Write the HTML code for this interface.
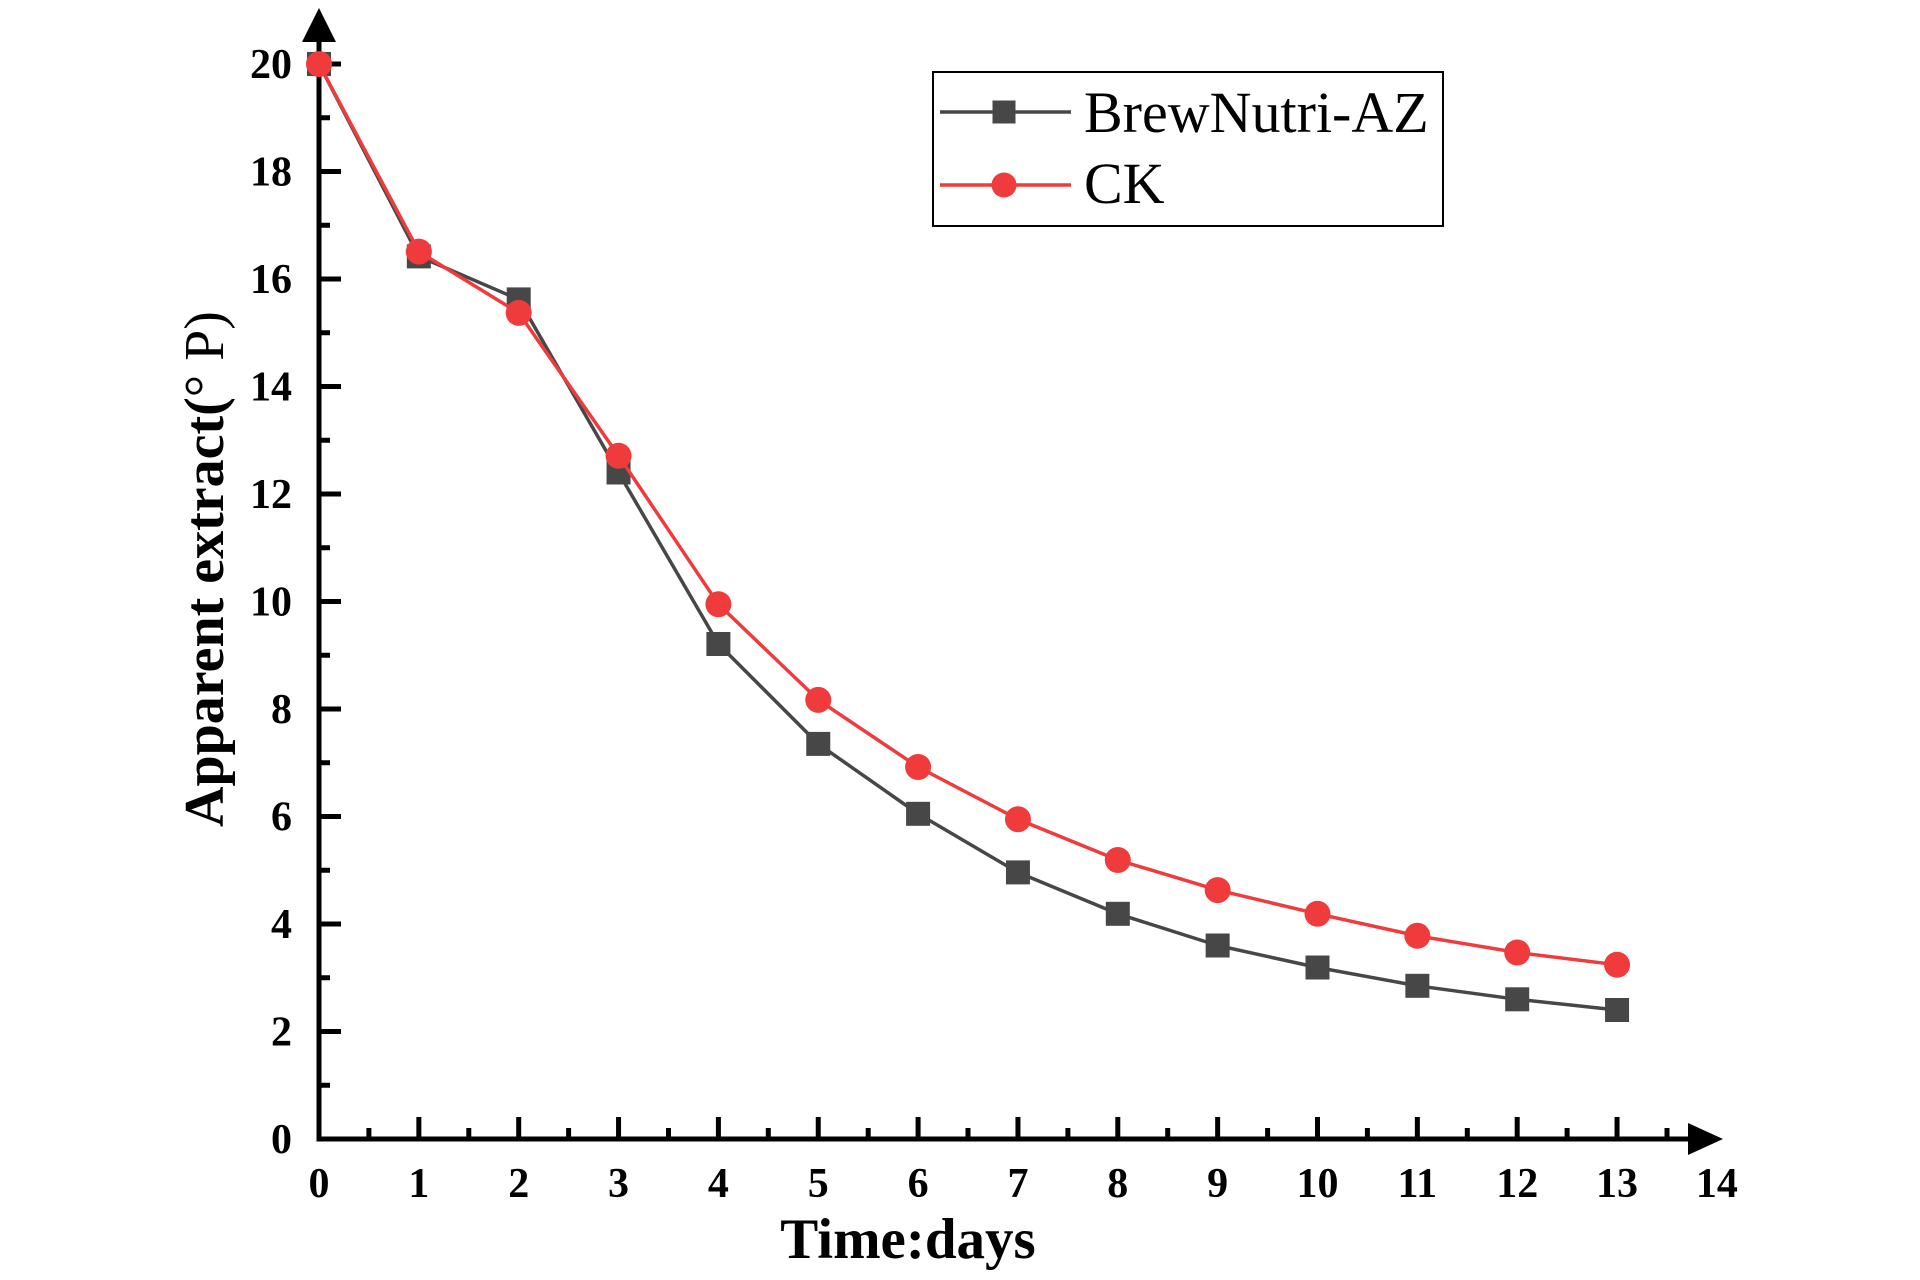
<!DOCTYPE html>
<html>
<head>
<meta charset="utf-8">
<style>
html,body{margin:0;padding:0;background:#fff;}
svg{display:block;}
</style>
</head>
<body>
<svg width="1920" height="1280" viewBox="0 0 1920 1280" xmlns="http://www.w3.org/2000/svg">
<rect width="1920" height="1280" fill="#fff"/>

<!-- axes -->
<g stroke="#000" stroke-width="5" fill="none">
  <line x1="319" y1="1141.5" x2="319" y2="38"/>
  <line x1="316.5" y1="1139" x2="1692" y2="1139"/>
  <!-- y major ticks -->
  <line x1="319" y1="1139" x2="341" y2="1139"/>
  <line x1="319" y1="1031.5" x2="341" y2="1031.5"/>
  <line x1="319" y1="924" x2="341" y2="924"/>
  <line x1="319" y1="816.5" x2="341" y2="816.5"/>
  <line x1="319" y1="709" x2="341" y2="709"/>
  <line x1="319" y1="601.5" x2="341" y2="601.5"/>
  <line x1="319" y1="494" x2="341" y2="494"/>
  <line x1="319" y1="386.5" x2="341" y2="386.5"/>
  <line x1="319" y1="279" x2="341" y2="279"/>
  <line x1="319" y1="171.5" x2="341" y2="171.5"/>
  <line x1="319" y1="64" x2="341" y2="64"/>
  <!-- y minor ticks -->
  <line x1="319" y1="1085.25" x2="330" y2="1085.25"/>
  <line x1="319" y1="977.75" x2="330" y2="977.75"/>
  <line x1="319" y1="870.25" x2="330" y2="870.25"/>
  <line x1="319" y1="762.75" x2="330" y2="762.75"/>
  <line x1="319" y1="655.25" x2="330" y2="655.25"/>
  <line x1="319" y1="547.75" x2="330" y2="547.75"/>
  <line x1="319" y1="440.25" x2="330" y2="440.25"/>
  <line x1="319" y1="332.75" x2="330" y2="332.75"/>
  <line x1="319" y1="225.25" x2="330" y2="225.25"/>
  <line x1="319" y1="117.75" x2="330" y2="117.75"/>
  <!-- x major ticks -->
  <line x1="418.85" y1="1139" x2="418.85" y2="1117"/>
  <line x1="518.7" y1="1139" x2="518.7" y2="1117"/>
  <line x1="618.55" y1="1139" x2="618.55" y2="1117"/>
  <line x1="718.4" y1="1139" x2="718.4" y2="1117"/>
  <line x1="818.25" y1="1139" x2="818.25" y2="1117"/>
  <line x1="918.1" y1="1139" x2="918.1" y2="1117"/>
  <line x1="1017.95" y1="1139" x2="1017.95" y2="1117"/>
  <line x1="1117.8" y1="1139" x2="1117.8" y2="1117"/>
  <line x1="1217.65" y1="1139" x2="1217.65" y2="1117"/>
  <line x1="1317.5" y1="1139" x2="1317.5" y2="1117"/>
  <line x1="1417.35" y1="1139" x2="1417.35" y2="1117"/>
  <line x1="1517.2" y1="1139" x2="1517.2" y2="1117"/>
  <line x1="1617.05" y1="1139" x2="1617.05" y2="1117"/>
  <!-- x minor ticks -->
  <line x1="368.9" y1="1139" x2="368.9" y2="1128"/>
  <line x1="468.8" y1="1139" x2="468.8" y2="1128"/>
  <line x1="568.6" y1="1139" x2="568.6" y2="1128"/>
  <line x1="668.5" y1="1139" x2="668.5" y2="1128"/>
  <line x1="768.3" y1="1139" x2="768.3" y2="1128"/>
  <line x1="868.2" y1="1139" x2="868.2" y2="1128"/>
  <line x1="968.0" y1="1139" x2="968.0" y2="1128"/>
  <line x1="1067.9" y1="1139" x2="1067.9" y2="1128"/>
  <line x1="1167.7" y1="1139" x2="1167.7" y2="1128"/>
  <line x1="1267.6" y1="1139" x2="1267.6" y2="1128"/>
  <line x1="1367.4" y1="1139" x2="1367.4" y2="1128"/>
  <line x1="1467.3" y1="1139" x2="1467.3" y2="1128"/>
  <line x1="1567.1" y1="1139" x2="1567.1" y2="1128"/>
  <line x1="1667.0" y1="1139" x2="1667.0" y2="1128"/>
</g>
<!-- arrows -->
<polygon points="319,8 302,42 336,42" fill="#000"/>
<polygon points="1723,1139 1688,1123 1688,1155" fill="#000"/>

<!-- y tick labels -->
<g font-family="Liberation Serif, serif" font-weight="bold" font-size="42" fill="#000" text-anchor="end">
  <text x="292" y="1153">0</text>
  <text x="292" y="1045.5">2</text>
  <text x="292" y="938">4</text>
  <text x="292" y="830.5">6</text>
  <text x="292" y="723">8</text>
  <text x="292" y="615.5">10</text>
  <text x="292" y="508">12</text>
  <text x="292" y="400.5">14</text>
  <text x="292" y="293">16</text>
  <text x="292" y="185.5">18</text>
  <text x="292" y="78">20</text>
</g>
<!-- x tick labels -->
<g font-family="Liberation Serif, serif" font-weight="bold" font-size="42" fill="#000" text-anchor="middle">
  <text x="319" y="1197">0</text>
  <text x="418.85" y="1197">1</text>
  <text x="518.7" y="1197">2</text>
  <text x="618.55" y="1197">3</text>
  <text x="718.4" y="1197">4</text>
  <text x="818.25" y="1197">5</text>
  <text x="918.1" y="1197">6</text>
  <text x="1017.95" y="1197">7</text>
  <text x="1117.8" y="1197">8</text>
  <text x="1217.65" y="1197">9</text>
  <text x="1317.5" y="1197">10</text>
  <text x="1417.35" y="1197">11</text>
  <text x="1517.2" y="1197">12</text>
  <text x="1617.05" y="1197">13</text>
  <text x="1716.9" y="1197">14</text>
</g>

<!-- axis titles -->
<text x="908" y="1258" font-family="Liberation Serif, serif" font-weight="bold" font-size="57" text-anchor="middle" fill="#000">Time:days</text>
<text transform="translate(223,569) rotate(-90)" x="0" y="0" font-family="Liberation Serif, serif" font-weight="bold" font-size="56" text-anchor="middle" fill="#000">Apparent extract(<tspan font-weight="normal">° P)</tspan></text>

<!-- Black series -->
<polyline fill="none" stroke="#474747" stroke-width="3.5" stroke-linejoin="round"
 points="319,64 418.85,256.4 518.7,299.4 618.55,472.5 718.4,644 818.25,743.9 918.1,813.8 1017.95,872.4 1117.8,913.8 1217.65,945.5 1317.5,967.5 1417.35,985.8 1517.2,999.3 1617.05,1010"/>
<g fill="#474747">
  <rect x="307" y="52" width="24" height="24"/>
  <rect x="406.85" y="244.4" width="24" height="24"/>
  <rect x="506.7" y="287.4" width="24" height="24"/>
  <rect x="606.55" y="460.5" width="24" height="24"/>
  <rect x="706.4" y="632" width="24" height="24"/>
  <rect x="806.25" y="731.9" width="24" height="24"/>
  <rect x="906.1" y="801.8" width="24" height="24"/>
  <rect x="1005.95" y="860.4" width="24" height="24"/>
  <rect x="1105.8" y="901.8" width="24" height="24"/>
  <rect x="1205.65" y="933.5" width="24" height="24"/>
  <rect x="1305.5" y="955.5" width="24" height="24"/>
  <rect x="1405.35" y="973.8" width="24" height="24"/>
  <rect x="1505.2" y="987.3" width="24" height="24"/>
  <rect x="1605.05" y="998" width="24" height="24"/>
</g>

<!-- Red series -->
<polyline fill="none" stroke="#EF3B3B" stroke-width="3.5" stroke-linejoin="round"
 points="319,64 418.85,251.6 518.7,312.9 618.55,455.8 718.4,604.2 818.25,699.9 918.1,767 1017.95,819.2 1117.8,860 1217.65,890.1 1317.5,913.8 1417.35,935.8 1517.2,952.5 1617.05,964.8"/>
<g fill="#EF3B3B">
  <circle cx="319" cy="64" r="13"/>
  <circle cx="418.85" cy="251.6" r="13"/>
  <circle cx="518.7" cy="312.9" r="13"/>
  <circle cx="618.55" cy="455.8" r="13"/>
  <circle cx="718.4" cy="604.2" r="13"/>
  <circle cx="818.25" cy="699.9" r="13"/>
  <circle cx="918.1" cy="767" r="13"/>
  <circle cx="1017.95" cy="819.2" r="13"/>
  <circle cx="1117.8" cy="860" r="13"/>
  <circle cx="1217.65" cy="890.1" r="13"/>
  <circle cx="1317.5" cy="913.8" r="13"/>
  <circle cx="1417.35" cy="935.8" r="13"/>
  <circle cx="1517.2" cy="952.5" r="13"/>
  <circle cx="1617.05" cy="964.8" r="13"/>
</g>

<!-- Legend -->
<rect x="933" y="72" width="510" height="154" fill="#fff" stroke="#000" stroke-width="2"/>
<line x1="940" y1="112" x2="1071" y2="112" stroke="#474747" stroke-width="3.5"/>
<rect x="992.5" y="100.5" width="23" height="23" fill="#474747"/>
<line x1="940" y1="185" x2="1071" y2="185" stroke="#EF3B3B" stroke-width="3.5"/>
<circle cx="1004" cy="185" r="12.5" fill="#EF3B3B"/>
<g font-family="Liberation Serif, serif" font-size="58" fill="#000">
  <text x="1084" y="132">BrewNutri-AZ</text>
  <text x="1084" y="203">CK</text>
</g>
</svg>
</body>
</html>
